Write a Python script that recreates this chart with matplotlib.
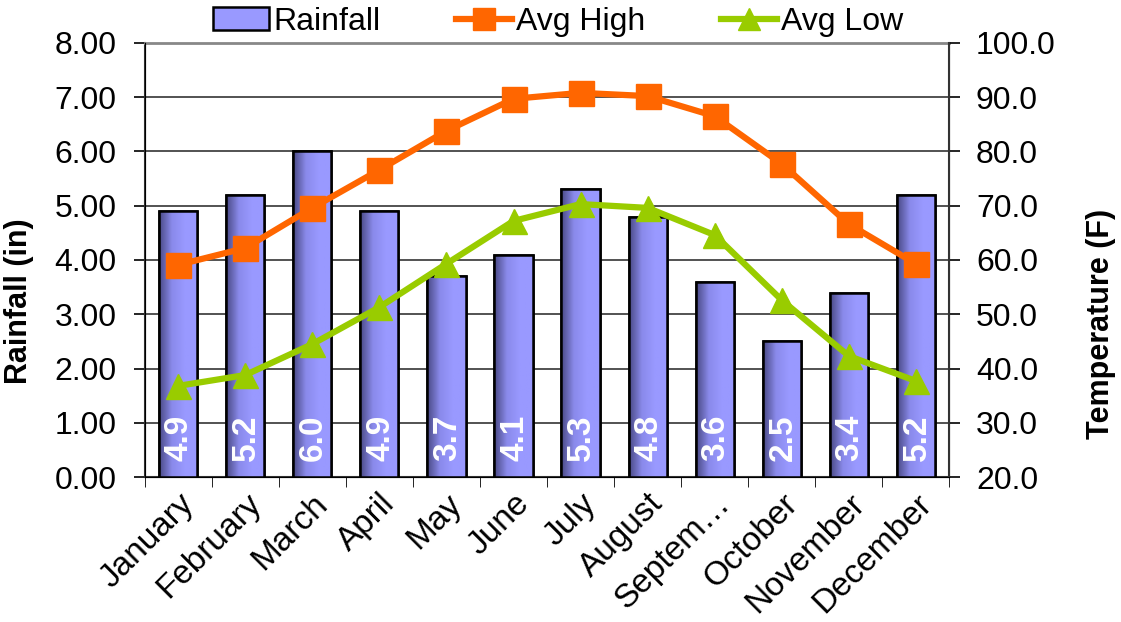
"""Monthly rainfall with average high/low temperatures."""

import numpy as np
import matplotlib
matplotlib.use("Agg")
import matplotlib.pyplot as plt
from matplotlib.colors import LinearSegmentedColormap
from matplotlib.lines import Line2D
from matplotlib.patches import Patch

plt.rcParams['font.family'] = ['Liberation Sans', 'DejaVu Sans']

months = ['January', 'February', 'March', 'April', 'May', 'June', 'July',
          'August', 'Septem…', 'October', 'November', 'December']
rainfall = [4.9, 5.2, 6.0, 4.9, 3.7, 4.1, 5.3, 4.8, 3.6, 2.5, 3.4, 5.2]
avg_high = [59.1, 62.2, 69.6, 76.6, 83.8, 89.7, 90.8, 90.2, 86.5, 77.7, 66.6, 59.3]
avg_low = [36.8, 38.8, 44.5, 51.3, 59.3, 67.2, 70.3, 69.6, 64.6, 52.6, 42.3, 37.7]

rain_ticks = np.arange(0, 8.01, 1.0)
temp_ticks = np.arange(20, 100.01, 10)

BAR = '#9999FF'
HIGH = '#FF6600'
LOW = '#99CC00'

fig = plt.figure(figsize=(11.21, 6.22), dpi=100)
ax1 = fig.add_axes([0.129, 0.233, 0.718, 0.698])

x = np.arange(len(months))
width = 0.57
bars = ax1.bar(x, rainfall, width=width, color=BAR, edgecolor='black',
               linewidth=1.8, zorder=3)

# horizontal gradient on each bar (dark left edge -> light)
cmap = LinearSegmentedColormap.from_list('bar', ['#4a4a85', '#8a8aeb', BAR, BAR])
grad = np.linspace(0, 1, 64).reshape(1, -1)
for b in bars:
    bx, by = b.get_x(), b.get_y()
    im = ax1.imshow(grad, cmap=cmap, aspect='auto', zorder=3.1,
                    extent=[bx, bx + b.get_width(), by, by + b.get_height()])
    im.set_clip_path(b)
    ax1.bar(bx + b.get_width() / 2, b.get_height(), width=width, fill=False,
            edgecolor='black', linewidth=1.8, zorder=3.2)

for xi, v in zip(x, rainfall):
    ax1.text(xi + 0.02, 0.3, f'{v:.1f}', rotation=90, ha='center', va='bottom',
             color='white', fontsize=24, fontweight='bold', zorder=6)

ax1.set_xlim(-0.5, len(months) - 0.5)
ax1.set_ylim(0, 8)
ax1.set_yticks(rain_ticks)
ax1.set_yticklabels([f'{t:.2f}' for t in rain_ticks], fontsize=23)
ax1.set_ylabel('Rainfall (in)', fontsize=22, fontweight='bold')
ax1.yaxis.set_label_coords(-0.137, 0.405)
ax1.grid(axis='y', color='#444444', linewidth=1.3, zorder=0)
ax1.set_axisbelow(True)

ax1.set_xticks(x)
ax1.set_xticklabels(months, rotation=45, ha='right', rotation_mode='anchor',
                    fontsize=24)
ax1.tick_params(axis='x', length=0, pad=8)
ax1.set_xticks(np.arange(-0.5, len(months)), minor=True)
ax1.tick_params(axis='x', which='minor', length=7, direction='out')
ax1.tick_params(axis='y', length=8, direction='out', width=1.2, pad=12)

for side in ['left', 'bottom']:
    ax1.spines[side].set_color('#333333')
    ax1.spines[side].set_linewidth(1.5)
ax1.spines['top'].set_color('#888888')
ax1.spines['top'].set_linewidth(2)

ax2 = ax1.twinx()
ax2.plot(x, avg_high, color=HIGH, linewidth=4.5, marker='s', markersize=18,
         zorder=5)
ax2.plot(x, avg_low, color=LOW, linewidth=4.5, marker='^', markersize=18,
         zorder=5)
ax2.set_ylim(20, 100)
ax2.set_yticks(temp_ticks)
ax2.set_yticklabels([f'{t:.1f}' for t in temp_ticks], fontsize=23)
ax2.set_ylabel('Temperature (F)', fontsize=22, fontweight='bold')
ax2.yaxis.set_label_coords(1.170, 0.353)
ax2.tick_params(axis='y', length=8, direction='out', width=1.2, pad=11)
ax2.spines['right'].set_color('#333333')
ax2.spines['right'].set_linewidth(1.5)
ax2.spines['top'].set_visible(False)

handles = [Patch(facecolor=BAR, edgecolor='black', linewidth=1.8),
           Line2D([], [], color=HIGH, linewidth=4.5, marker='s', markersize=16),
           Line2D([], [], color=LOW, linewidth=4.5, marker='^', markersize=16)]
fig.legend(handles, ['Rainfall', 'Avg High', 'Avg Low'], loc='center',
           bbox_to_anchor=(0.498, 0.965), ncol=3, frameon=False, fontsize=23,
           handlelength=1.75, handletextpad=0.15, columnspacing=2.35,
           borderpad=0.0)

fig.savefig('out.png', dpi=100)
